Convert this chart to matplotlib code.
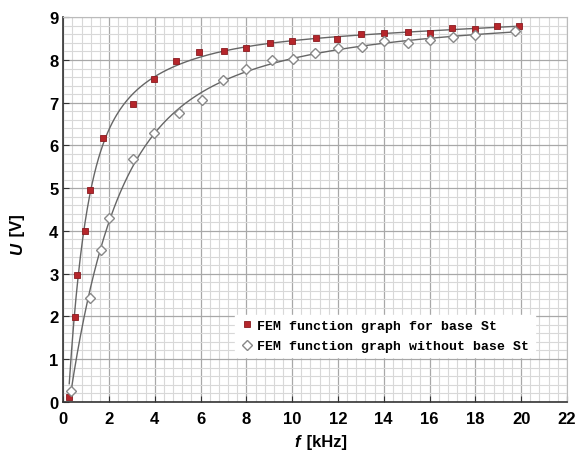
import numpy as np
import matplotlib
matplotlib.use("Agg")
import matplotlib.pyplot as plt
from matplotlib.ticker import MultipleLocator

# FEM function graph for base St (red squares)
f_st = [0.26, 0.51, 0.61, 0.95, 1.15, 1.73, 3.03, 3.95, 4.92, 5.91, 7.0, 8.0,
        9.03, 10.0, 11.05, 11.98, 12.99, 14.03, 15.04, 16.03, 16.99, 18.0, 18.97, 19.92]
u_st = [0.11, 1.99, 2.96, 4.0, 4.96, 6.17, 6.96, 7.55, 7.98, 8.18, 8.2, 8.27,
        8.39, 8.44, 8.51, 8.49, 8.61, 8.63, 8.66, 8.64, 8.74, 8.72, 8.79, 8.8]

# FEM function graph without base St (white diamonds)
f_no = [0.32, 1.15, 1.65, 2.0, 3.03, 3.95, 5.05, 6.06, 6.97, 8.0, 9.1, 10.03,
        11.0, 12.0, 13.07, 14.03, 15.08, 16.04, 17.03, 17.98, 19.74]
u_no = [0.26, 2.43, 3.56, 4.3, 5.68, 6.29, 6.75, 7.07, 7.53, 7.8, 7.99, 8.02,
        8.16, 8.28, 8.3, 8.44, 8.39, 8.48, 8.55, 8.59, 8.69]


def fit_curve(x, y):
    # sum of two saturating exponentials plus a linear tail, starting at x0
    x = np.asarray(x)
    y = np.asarray(y)
    x0 = x[0] - 0.05

    def basis(t, b1, b2):
        s = np.clip(t - x0, 0, None)
        return np.column_stack([1 - np.exp(-s / b1), 1 - np.exp(-s / b2), s])

    best = None
    for b1 in np.linspace(0.2, 3, 57):
        for b2 in np.linspace(1, 12, 45):
            A = basis(x, b1, b2)
            coef, *_ = np.linalg.lstsq(A, y, rcond=None)
            if np.any(coef < 0):
                continue
            err = np.sum((A @ coef - y) ** 2)
            if best is None or err < best[0]:
                best = (err, coef, b1, b2)
    _, coef, b1, b2 = best
    return lambda t: basis(t, b1, b2) @ coef


fig = plt.figure(figsize=(5.79, 4.52), dpi=100)
ax = fig.add_axes([0.1093, 0.109, 0.8697, 0.8505])

t1 = np.linspace(f_st[0], f_st[-1], 400)
t2 = np.linspace(f_no[0], f_no[-1], 400)
ax.plot(t1, fit_curve(f_st, u_st)(t1), color="#666666", lw=1.0, zorder=2)
ax.plot(t2, fit_curve(f_no, u_no)(t2), color="#666666", lw=1.0, zorder=2)

ax.plot(f_st, u_st, ls="none", marker="s", ms=4.5, mfc="#b5262b", mec="#8a1a1f",
        mew=0.6, zorder=3, label="FEM function graph for base St")
ax.plot(f_no, u_no, ls="none", marker="D", ms=5, mfc="white", mec="#888888",
        mew=1.0, zorder=3, label="FEM function graph without base St")

ax.set_xlim(0, 22)
ax.set_ylim(0, 9)
ax.xaxis.set_major_locator(MultipleLocator(2))
ax.xaxis.set_minor_locator(MultipleLocator(0.4))
ax.yaxis.set_major_locator(MultipleLocator(1))
ax.yaxis.set_minor_locator(MultipleLocator(0.2))
ax.grid(which="major", color="#a8a8a8", lw=0.9)
ax.grid(which="minor", color="#d8d8d8", lw=0.8)
ax.set_axisbelow(True)

for s in ["left", "bottom"]:
    ax.spines[s].set_color("#333333")
    ax.spines[s].set_linewidth(1.2)
for s in ["top", "right"]:
    ax.spines[s].set_color("#bbbbbb")
    ax.spines[s].set_linewidth(0.8)

ax.tick_params(which="major", direction="in", length=4, color="#333333",
               labelsize=12)
ax.tick_params(axis="x", which="major", pad=7)
ax.tick_params(which="minor", length=0)
for lab in ax.get_xticklabels() + ax.get_yticklabels():
    lab.set_fontweight("bold")
    lab.set_family("Liberation Sans")

# axis labels: italic variable + upright unit
fig.text(0.509, 0.004, "f", style="italic", fontsize=12, fontweight="bold",
         family="Liberation Sans", ha="left", va="bottom")
fig.text(0.521, 0.004, " [kHz]", fontsize=12, fontweight="bold",
         family="Liberation Sans", ha="left", va="bottom")
fig.text(0.018, 0.436, "U", style="italic", fontsize=12, fontweight="bold",
         family="Liberation Sans", rotation=90, ha="left", va="bottom")
fig.text(0.018, 0.466, " [V]", fontsize=12, fontweight="bold",
         family="Liberation Sans", rotation=90, ha="left", va="bottom")

leg = ax.legend(loc="upper left", bbox_to_anchor=(0.328, 0.244), frameon=True,
                fancybox=False, edgecolor="white", facecolor="white",
                framealpha=1.0, prop={"family": "Liberation Mono", "weight": "bold",
                                      "size": 9.5},
                handlelength=1.0, handletextpad=0.3, borderpad=0.4,
                labelspacing=0.6)

fig.savefig("out.png", dpi=100)
